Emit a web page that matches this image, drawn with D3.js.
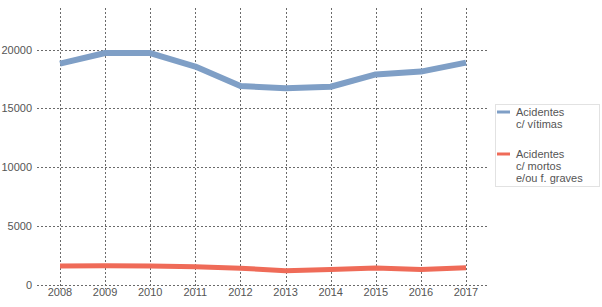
<!DOCTYPE html>
<html>
<head>
<meta charset="utf-8">
<script src="https://cdn.jsdelivr.net/npm/d3@7"></script>
<style>
  body { margin: 0; background: #fff; }
  text { font-family: "Liberation Sans", Arial, sans-serif; }
</style>
</head>
<body>
<div id="chart"></div>
<script>
var anos = [2008, 2009, 2010, 2011, 2012, 2013, 2014, 2015, 2016, 2017];
var vitimas = [18800, 19700, 19700, 18550, 16900, 16700, 16830, 17880, 18120, 18880];
var mortos = [1580, 1590, 1570, 1515, 1380, 1180, 1270, 1400, 1270, 1420];
var yTicks = [0, 5000, 10000, 15000, 20000];
var legendas = [
    {nome: ["Acidentes", "c/ vítimas"], cor: "#7f9fc6"},
    {nome: ["Acidentes", "c/ mortos", "e/ou f. graves"], cor: "#ef6b58"}
];

var width = 602, height = 307;

var svg = d3.select("#chart")
    .append("svg")
    .attr("width", width)
    .attr("height", height);

var x = d3.scaleLinear()
    .domain([2008, 2017])
    .range([60, 466]);

var y = d3.scaleLinear()
    .domain([0, 20000])
    .range([284.5, 49.5]);

// grelha horizontal
svg.selectAll(".hgrid")
    .data(yTicks)
    .enter()
    .append("line")
    .attr("x1", 37)
    .attr("x2", 487)
    .attr("y1", function(d) { return Math.round(y(d)) + 0.5; })
    .attr("y2", function(d) { return Math.round(y(d)) + 0.5; })
    .attr("stroke", "#6a6a6a")
    .attr("stroke-dasharray", "2,2");

// grelha vertical
svg.selectAll(".vgrid")
    .data(anos)
    .enter()
    .append("line")
    .attr("x1", function(d) { return Math.round(x(d)) + 0.5; })
    .attr("x2", function(d) { return Math.round(x(d)) + 0.5; })
    .attr("y1", 8)
    .attr("y2", 289)
    .attr("stroke", "#6a6a6a")
    .attr("stroke-dasharray", "2,2");

svg.selectAll(".ylabel")
    .data(yTicks)
    .enter()
    .append("text")
    .attr("x", 32)
    .attr("y", function(d) { return y(d) + 4; })
    .attr("text-anchor", "end")
    .attr("font-size", 11)
    .attr("fill", "#555")
    .text(function(d) { return d; });

svg.selectAll(".xlabel")
    .data(anos)
    .enter()
    .append("text")
    .attr("x", function(d) { return x(d); })
    .attr("y", 296)
    .attr("text-anchor", "middle")
    .attr("font-size", 11)
    .attr("fill", "#555")
    .text(function(d) { return d; });

var line = d3.line()
    .x(function(d, i) { return x(anos[i]); })
    .y(function(d) { return y(d); });

[vitimas, mortos].forEach(function(serie, i) {
    svg.append("path")
        .datum(serie)
        .attr("d", line)
        .attr("fill", "none")
        .attr("stroke", legendas[i].cor)
        .attr("stroke-width", i == 0 ? 6 : 5)
        .attr("stroke-linejoin", "round");
});

// legenda
var leg = svg.append("g");
leg.append("rect")
    .attr("x", 495.5)
    .attr("y", 104.5)
    .attr("width", 104)
    .attr("height", 82)
    .attr("fill", "#fff")
    .attr("stroke", "#e2e2e2");

var legY = [112, 154];
legendas.forEach(function(l, i) {
    leg.append("line")
        .attr("x1", 497)
        .attr("x2", 510)
        .attr("y1", legY[i])
        .attr("y2", legY[i])
        .attr("stroke", l.cor)
        .attr("stroke-width", 3);
    l.nome.forEach(function(t, j) {
        leg.append("text")
            .attr("x", 516)
            .attr("y", legY[i] + 4 + j * 12)
            .attr("font-size", 11)
            .attr("fill", "#555")
            .text(t);
    });
});
</script>
</body>
</html>
